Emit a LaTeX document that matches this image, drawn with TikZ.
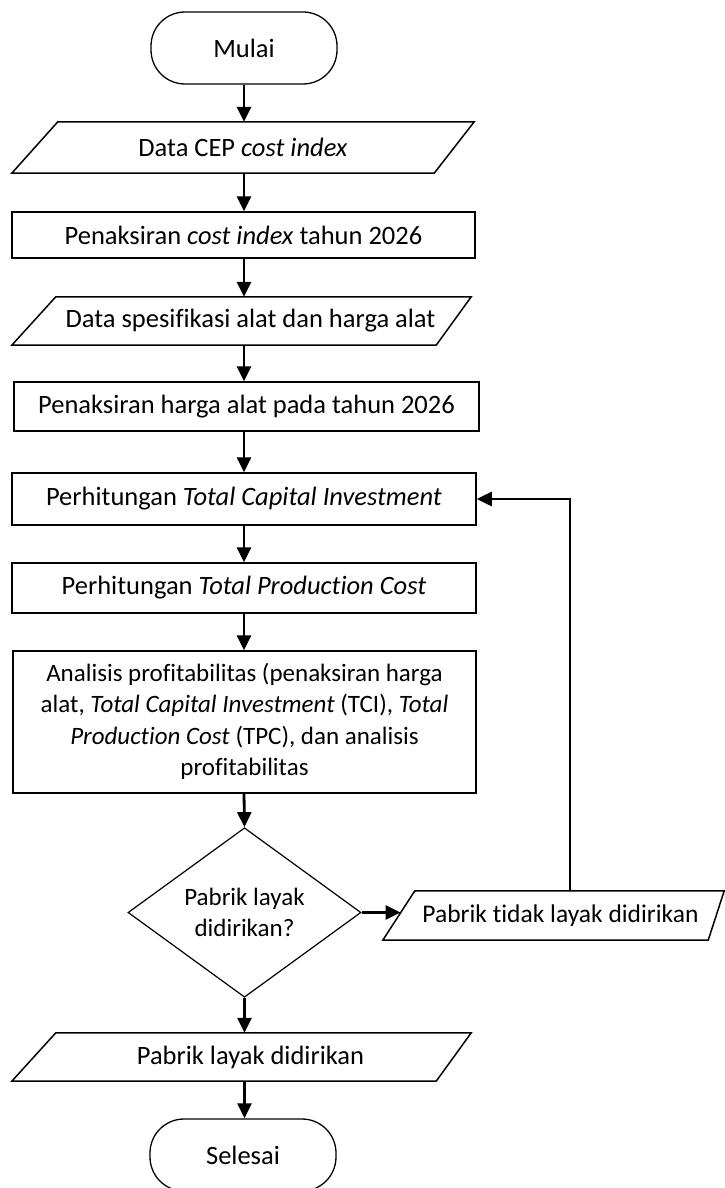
\documentclass[tikz,border=0pt]{standalone}
\usepackage{fontspec}
\setmainfont{Carlito}[Ligatures={NoCommon}]
\usetikzlibrary{arrows.meta,shapes.geometric,calc}
\begin{document}
\begin{tikzpicture}[x=1pt,y=-1pt,
  every node/.style={font=\fontsize{26.5}{31.5}\selectfont},
  smalltext/.style={font=\fontsize{25}{31.5}\selectfont},
  procbox/.style={draw, line width=1.5pt, rectangle, inner sep=0pt, align=center},
  iobox/.style={rectangle, inner sep=0pt, align=center},
  termbox/.style={draw, line width=1.3pt, rectangle, rounded corners=34pt, minimum width=186pt, minimum height=72pt, inner sep=0pt},
  decbox/.style={draw, line width=1.2pt, diamond, inner sep=0pt, minimum width=233pt, minimum height=163pt, align=center},
  ioline/.style={line width=1.5pt, line join=miter},
  arr/.style={line width=2.8pt, -{Triangle[length=15pt,width=14pt]}},
  larr/.style={line width=2.5pt, -{Triangle[length=15pt,width=14pt]}}
]
\clip (0,0) rectangle (725,1188);
\fill[white] (0,0) rectangle (725,1188);

% terminals
\node[termbox] (mulai) at (244,48) {Mulai};
\node[termbox] (selesai) at (243,1155) {\raisebox{-4pt}{Selesai}};

% input/output 1
\node[iobox, minimum width=462pt, minimum height=51pt] (p1) at (243,147.5) {\raisebox{-4pt}{Data CEP \textit{cost index}}};
\draw[ioline] (p1.south west) -- ([xshift=46pt]p1.north west) -- (p1.north east) -- ([xshift=-40pt]p1.south east) -- cycle;

% process 2
\node[procbox, minimum width=463pt, minimum height=46pt] (b2) at (243.5,235) {\raisebox{-4pt}{Penaksiran \textit{cost index} tahun 2026}};

% input/output 2
\node[iobox, minimum width=459pt, minimum height=48pt] (p2) at (241.5,321) {\hspace{18pt}\raisebox{-5pt}{Data spesifikasi alat dan harga alat}};
\draw[ioline] (p2.south west) -- ([xshift=44pt]p2.north west) -- (p2.north east) -- ([xshift=-35pt]p2.south east) -- cycle;

% process 3
\node[procbox, minimum width=465pt, minimum height=49pt] (b3) at (246.5,406.5) {\raisebox{-4pt}{Penaksiran harga alat pada tahun 2026}};

% TCI
\node[procbox, minimum width=464pt, minimum height=52pt] (tci) at (244,499) {Perhitungan \textit{Total Capital Investment}};

% TPC
\node[procbox, minimum width=464pt, minimum height=50pt] (tpc) at (244,588) {Perhitungan \textit{Total Production Cost}};

% analysis
\node[procbox, smalltext, minimum width=463pt, minimum height=142pt] (ana) at (244.5,722) {\raisebox{-4pt}{\begin{tabular}{@{}c@{}}Analisis profitabilitas (penaksiran harga\\alat, \textit{Total Capital Investment} (TCI), \textit{Total}\\\textit{Production Cost} (TPC), dan analisis\\profitabilitas\end{tabular}}};

% decision
\node[decbox, smalltext] (dec) at (244.5,912.5) {Pabrik layak\\didirikan?};

% not feasible
\node[iobox, font=\fontsize{25.5}{31.5}\selectfont, minimum width=341pt, minimum height=49pt] (p3) at (553.5,915.5) {\hspace{14pt}\raisebox{-4pt}{Pabrik tidak layak didirikan}};
\draw[ioline] (p3.south west) -- ([xshift=32pt]p3.north west) -- (p3.north east) -- ([xshift=-16pt]p3.south east) -- cycle;
\coordinate (p3in) at (400.6,912.5);
\coordinate (p3up) at (570,891);

% feasible
\node[iobox, minimum width=459pt, minimum height=48pt] (p4) at (241.5,1057) {\hspace{18pt}\raisebox{-5pt}{Pabrik layak didirikan}};
\draw[ioline] (p4.south west) -- ([xshift=44pt]p4.north west) -- (p4.north east) -- ([xshift=-35pt]p4.south east) -- cycle;

% connectors
\draw[arr] (mulai.south) -- (mulai.south |- p1.north);
\draw[arr] (p1.south -| mulai.south) -- (mulai.south |- b2.north);
\draw[arr] (b2.south -| mulai.south) -- (mulai.south |- p2.north);
\draw[arr] (p2.south -| mulai.south) -- (mulai.south |- b3.north);
\draw[arr] (b3.south -| mulai.south) -- (mulai.south |- tci.north);
\draw[arr] (tci.south -| mulai.south) -- (mulai.south |- tpc.north);
\draw[arr] (tpc.south -| mulai.south) -- (mulai.south |- ana.north);
\draw[arr] (ana.south -| mulai.south) -- (dec.north);
\draw[arr] (dec.east) -- (p3in);
\draw[larr] (p3up) |- (tci.east);
\draw[arr] (dec.south) -- (dec.south |- p4.north);
\draw[arr] (p4.south -| dec.south) -- (dec.south |- selesai.north);
\end{tikzpicture}
\end{document}
